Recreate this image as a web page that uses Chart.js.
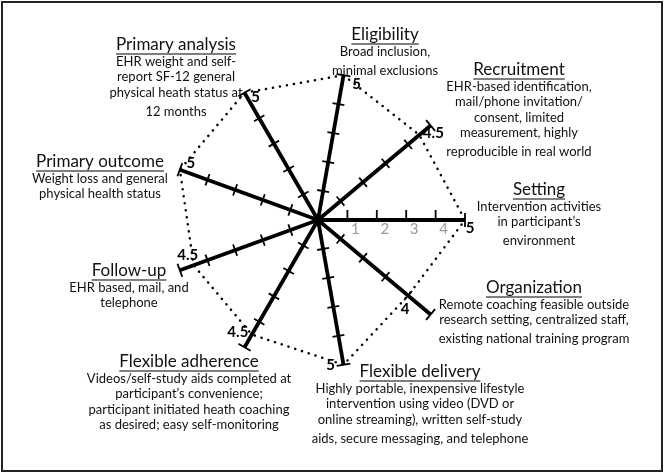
<!DOCTYPE html>
<html>
<head>
<meta charset="utf-8">
<script src="https://cdn.jsdelivr.net/npm/chart.js@4.4.1/dist/chart.umd.min.js"></script>
<style>
  body { margin: 0; background: #fff; }
  #wrap { position: relative; width: 664px; height: 474px; }
  #frame { position: absolute; left: 1px; top: 1px; width: 658px; height: 467px; border: 2px solid #222; pointer-events: none; }
</style>
</head>
<body>
<div id="wrap">
  <canvas id="myChart" width="664" height="474"></canvas>
  <div id="frame"></div>
</div>
<script>
const domains = [
  "Eligibility",
  "Recruitment",
  "Setting",
  "Organization",
  "Flexible delivery",
  "Flexible adherence",
  "Follow-up",
  "Primary outcome",
  "Primary analysis",
];
const scores = [5, 4.5, 5, 4, 5, 4.5, 4.5, 5, 5];
const descriptions = [
  ["Broad inclusion,", "minimal exclusions"],
  ["EHR-based identification,", "mail/phone invitation/", "consent, limited", "measurement, highly", "reproducible in real world"],
  ["Intervention activities", "in participant\u2019s", "environment"],
  ["Remote coaching feasible outside", "research setting, centralized staff,", "existing national training program"],
  ["Highly portable, inexpensive lifestyle", "intervention using video (DVD or", "online streaming), written self-study", "aids, secure messaging, and telephone"],
  ["Videos/self-study aids completed at", "participant\u2019s convenience;", "participant initiated heath coaching", "as desired; easy self-monitoring"],
  ["EHR based, mail, and", "telephone"],
  ["Weight loss and general", "physical health status"],
  ["EHR weight and self-", "report SF-12 general", "physical heath status at", "12 months"],
];
const tickValues = [1, 2, 3, 4, 5];
const tickLabels = ["1", "2", "3", "4"];

// where each domain's text block sits, relative to the wheel centre
const textPos = [
  { dx: 67, dy: -185, gap: 4 },
  { dx: 201, dy: -150, gap: 4 },
  { dx: 221, dy: -30, gap: 3 },
  { dx: 216, dy: 68, gap: 3 },
  { dx: 102, dy: 152, gap: 4 },
  { dx: -129, dy: 142, gap: 0 },
  { dx: -189, dy: 51, gap: 0 },
  { dx: -218, dy: -58, gap: 0 },
  { dx: -142, dy: -175, gap: 4 },
];
// score label offsets from the score point
const scorePos = [
  [13, 9], [14, -2], [5, 8], [-3, 14], [-13, 0], [-14, -2], [-6, -10], [11, -7], [11, 4],
];

const FONT = "Lato, 'Open Sans', sans-serif";

const wheelPlugin = {
  id: "wheel",
  afterDatasetsDraw(chart) {
    const ctx = chart.ctx;
    const r = chart.scales.r;
    const cx = r.xCenter, cy = r.yCenter;
    ctx.save();

    // tick marks across every spoke
    ctx.strokeStyle = "#000";
    ctx.lineWidth = 1.8;
    domains.forEach((d, i) => {
      tickValues.forEach((v) => {
        const p = r.getPointPositionForValue(i, v);
        const ang = r.getIndexAngle(i) - Math.PI / 2;
        const nx = -Math.sin(ang), ny = Math.cos(ang);
        let a = 6, b = 6;
        if (i === 2 && v < 5) { a = 0; b = 10; }
        if (v === 5) { a = 7; b = 7; }
        ctx.beginPath();
        ctx.moveTo(p.x + nx * a, p.y + ny * a);
        ctx.lineTo(p.x - nx * b, p.y - ny * b);
        ctx.stroke();
      });
    });

    // grey scale numbers along the Setting spoke
    ctx.fillStyle = "#9a9a9a";
    ctx.font = "15px " + FONT;
    ctx.textAlign = "center";
    ctx.textBaseline = "middle";
    tickLabels.forEach((t, k) => {
      const p = r.getPointPositionForValue(2, k + 1);
      ctx.fillText(t, p.x + 8, p.y + 9);
    });

    // score labels
    ctx.fillStyle = "#000";
    ctx.font = "bold 15px " + FONT;
    scores.forEach((s, i) => {
      const p = r.getPointPositionForValue(i, s);
      ctx.fillText(String(s), p.x + scorePos[i][0], p.y + scorePos[i][1]);
    });

    // domain titles and descriptions
    domains.forEach((d, i) => {
      const x = cx + textPos[i].dx, y = cy + textPos[i].dy;
      ctx.font = "17px " + FONT;
      ctx.fillStyle = "#111";
      ctx.fillText(d, x, y);
      const w = ctx.measureText(d).width;
      ctx.lineWidth = 1.2;
      ctx.beginPath();
      ctx.moveTo(x - w / 2, y + 9);
      ctx.lineTo(x + w / 2, y + 9);
      ctx.stroke();
      ctx.font = "13px " + FONT;
      const lines = descriptions[i];
      lines.forEach((ln, j) => {
        let ly = y + 17 + j * 15.3;
        if (j === lines.length - 1 && j > 0) ly += textPos[i].gap;
        ctx.fillText(ln, x, ly);
      });
    });
    ctx.restore();
  },
};

new Chart("myChart", {
  type: "radar",
  data: {
    labels: domains,
    datasets: [
      {
        data: scores,
        fill: false,
        borderColor: "#000",
        borderWidth: 2.5,
        borderDash: [0.1, 7],
        borderCapStyle: "round",
        pointRadius: 0,
        tension: 0,
      },
    ],
  },
  options: {
    responsive: false,
    animation: false,
    devicePixelRatio: 1,
    layout: { padding: { left: 171, right: 199, top: 73, bottom: 107 } },
    plugins: { legend: { display: false }, tooltip: { enabled: false } },
    scales: {
      r: {
        min: 0,
        max: 5,
        startAngle: 10,
        ticks: { display: false, stepSize: 1 },
        grid: { display: false },
        angleLines: { display: true, color: "#000", lineWidth: 3.8 },
        pointLabels: { display: false },
      },
    },
  },
  plugins: [wheelPlugin],
});
</script>
</body>
</html>
